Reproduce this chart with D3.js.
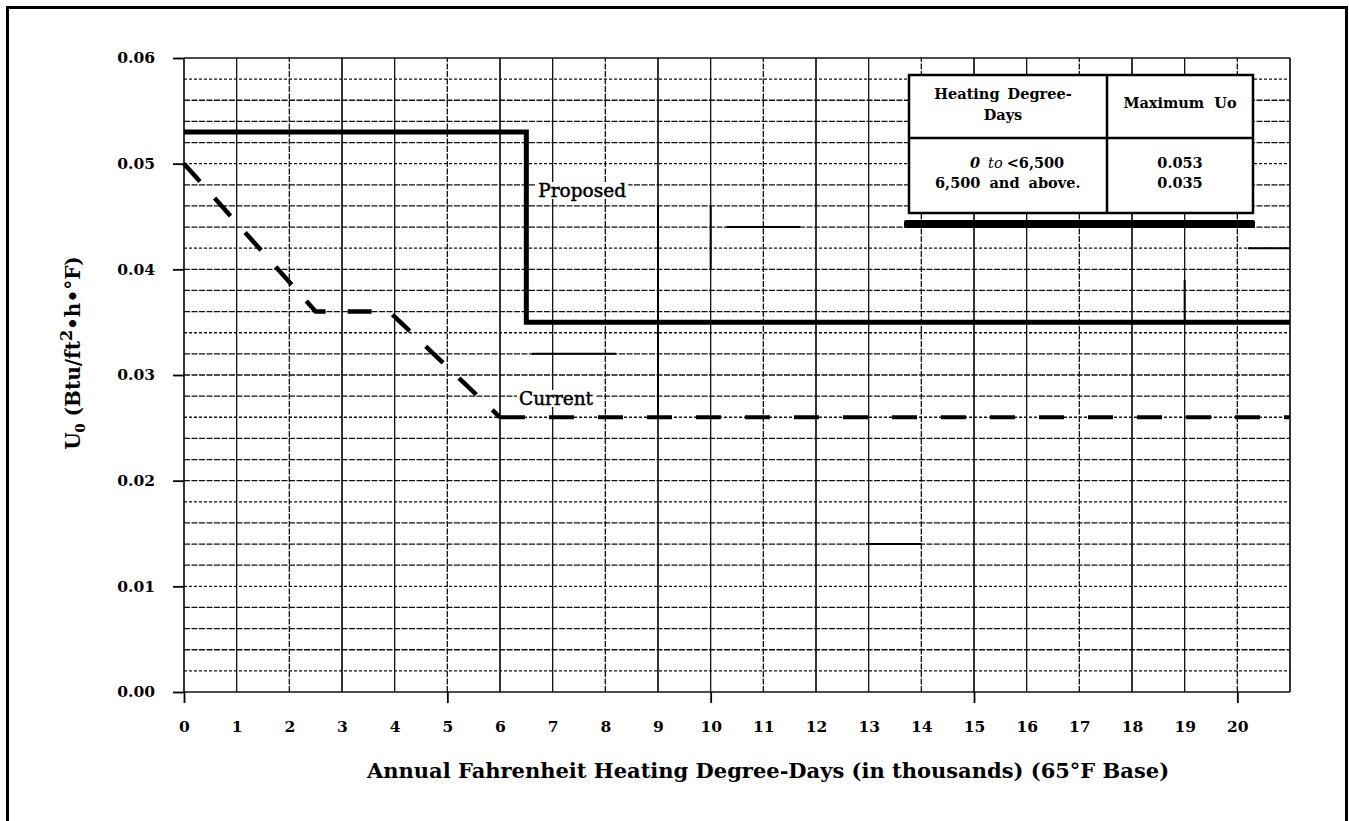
<!DOCTYPE html>
<html>
<head>
<meta charset="utf-8">
<script src="https://cdn.jsdelivr.net/npm/d3@7"></script>
<style>
  body { margin: 0; background: #fff; }
  svg { display: block; }
  text { font-family: "DejaVu Serif", serif; fill: #000; }
</style>
</head>
<body>
<div id="vis"></div>
<script>
// values
const proposedHDD = [0, 6.5, 6.5, 21];
const proposedU = [0.053, 0.053, 0.035, 0.035];
const currentHDD = [0, 2.5, 3.9, 6.0, 21];
const currentU = [0.050, 0.036, 0.036, 0.026, 0.026];

const xTickValues = [0, 1, 2, 3, 4, 5, 6, 7, 8, 9, 10, 11, 12, 13, 14, 15, 16, 17, 18, 19, 20];
const xMajorTicks = [0, 5, 10, 15, 20];
const yTickValues = [0.00, 0.01, 0.02, 0.03, 0.04, 0.05, 0.06];

const tableHeadLeft = ["Heating Degree-", "Days"];
const tableHeadRight = "Maximum Uo";
const tableRanges = ["0 to <6,500", "6,500 and above."];
const tableMaxU = ["0.053", "0.035"];

// darker grid pieces that show in the original print
const heavyH = [[0.044, 10.3, 11.7], [0.032, 6.6, 8.2], [0.014, 12.95, 14.0], [0.042, 20.2, 21]];
const heavyV = [[9, 0.026, 0.046], [10, 0.040, 0.046], [19, 0.035, 0.039]];

function drawChart() {
  const size = { width: 1349, height: 821 };
  const plot = { left: 184, right: 1290, top: 58, bottom: 692 };

  const svg = d3.select("#vis")
    .append("svg")
    .attr("width", size.width)
    .attr("height", size.height);

  // page frame (bottom edge is cut off in the scan)
  svg.append("path")
    .attr("d", `M7.5,${size.height} V7.5 H1346.5 V${size.height}`)
    .attr("fill", "none")
    .attr("stroke", "#000")
    .attr("stroke-width", 3);

  const x = d3.scaleLinear().domain([0, 21]).range([plot.left, plot.right]);
  const y = d3.scaleLinear().domain([0, 0.06]).range([plot.bottom, plot.top]);

  const grid = svg.append("g");
  const hLines = d3.range(0, 31).map(i => i * 0.002);
  grid.selectAll(".hgrid")
    .data(hLines)
    .join("line")
    .attr("class", "hgrid")
    .attr("x1", x(0)).attr("x2", x(21))
    .attr("y1", d => y(d)).attr("y2", d => y(d))
    .attr("stroke", "#111")
    .attr("stroke-width", (d, i) => (i === 0 || i === 30) ? 1.6 : 1.3)
    .attr("stroke-dasharray", (d, i) => (i === 0 || i === 30) ? null : (i % 4 === 1 ? "3,2" : "6,1.5"));

  grid.selectAll(".vgrid")
    .data(d3.range(0, 22))
    .join("line")
    .attr("class", "vgrid")
    .attr("x1", d => x(d)).attr("x2", d => x(d))
    .attr("y1", y(0)).attr("y2", y(0.06))
    .attr("stroke", "#111")
    .attr("stroke-width", (d, i) => i % 3 === 0 ? 1.7 : 1.3)
    .attr("stroke-dasharray", (d, i) => i % 3 === 2 ? "6,1.5" : null);

  grid.selectAll(".heavyH")
    .data(heavyH)
    .join("line")
    .attr("x1", d => x(d[1])).attr("x2", d => x(d[2]))
    .attr("y1", d => y(d[0])).attr("y2", d => y(d[0]))
    .attr("stroke", "#000").attr("stroke-width", 2);
  grid.selectAll(".heavyV")
    .data(heavyV)
    .join("line")
    .attr("x1", d => x(d[0])).attr("x2", d => x(d[0]))
    .attr("y1", d => y(d[1])).attr("y2", d => y(d[2]))
    .attr("stroke", "#000").attr("stroke-width", 2);

  // axes
  const yAxis = svg.append("g")
    .attr("transform", `translate(${plot.left},0)`)
    .call(d3.axisLeft(y).tickValues(yTickValues).tickSize(11).tickPadding(18).tickFormat(d3.format(".2f")));
  const xLabels = svg.append("g")
    .attr("transform", `translate(0,${plot.bottom})`)
    .call(d3.axisBottom(x).tickValues(xTickValues).tickSize(0).tickPadding(29).tickFormat(d3.format("d")));
  const xMajor = svg.append("g")
    .attr("transform", `translate(0,${plot.bottom})`)
    .call(d3.axisBottom(x).tickValues(xMajorTicks).tickSize(11).tickFormat(""));

  [yAxis, xLabels, xMajor].forEach(a => {
    a.select(".domain").remove();
    a.selectAll("line").attr("stroke", "#000").attr("stroke-width", 1.8);
    a.selectAll("text")
      .style("font-family", "'DejaVu Serif', serif")
      .style("font-size", "15.5px")
      .style("font-weight", "bold")
      .attr("fill", "#000");
  });

  // series
  const line = d3.line().x(d => x(d[0])).y(d => y(d[1]));
  const proposed = proposedHDD.map((d, i) => [d, proposedU[i]]);
  const current = currentHDD.map((d, i) => [d, currentU[i]]);

  svg.append("path")
    .datum(proposed)
    .attr("d", line)
    .attr("fill", "none")
    .attr("stroke", "#000")
    .attr("stroke-width", 5)
    .attr("stroke-linejoin", "miter");

  // dashed line drawn in two runs so the flat tail starts on a dash
  svg.append("path")
    .datum(current.slice(0, 4))
    .attr("d", line)
    .attr("fill", "none")
    .attr("stroke", "#000")
    .attr("stroke-width", 4.5)
    .attr("stroke-dasharray", "24,22");
  svg.append("path")
    .datum(current.slice(3))
    .attr("d", line)
    .attr("fill", "none")
    .attr("stroke", "#000")
    .attr("stroke-width", 4)
    .attr("stroke-dasharray", "25,24");

  // line labels with white knock-out
  function label(txt, lx, ly) {
    const g = svg.append("g");
    const bg = g.append("rect").attr("fill", "#fff");
    const t = g.append("text")
      .attr("x", lx).attr("y", ly)
      .style("font-size", "18.5px")
      .attr("stroke", "#000").attr("stroke-width", 0.5)
      .text(txt);
    const b = t.node().getBBox();
    bg.attr("x", b.x - 2).attr("y", b.y + 2).attr("width", b.width + 4).attr("height", b.height - 4);
  }
  label("Proposed", x(6.5) + 12, 197);
  label("Current", x(6.0) + 19, 405);

  // table box
  const tb = { left: 909, right: 1253, mid: 1107, top: 75, head: 138, bottom: 213 };
  const table = svg.append("g");
  table.append("rect")
    .attr("x", tb.left).attr("y", tb.top)
    .attr("width", tb.right - tb.left).attr("height", tb.bottom - tb.top)
    .attr("fill", "#fff").attr("stroke", "#000").attr("stroke-width", 2.5);
  table.append("line")
    .attr("x1", tb.mid).attr("x2", tb.mid).attr("y1", tb.top).attr("y2", tb.bottom)
    .attr("stroke", "#000").attr("stroke-width", 2.5);
  table.append("line")
    .attr("x1", tb.left).attr("x2", tb.right).attr("y1", tb.head).attr("y2", tb.head)
    .attr("stroke", "#000").attr("stroke-width", 2.5);
  table.append("rect")
    .attr("x", tb.left - 5).attr("y", tb.bottom + 7)
    .attr("width", tb.right - tb.left + 7).attr("height", 8)
    .attr("rx", 2)
    .attr("fill", "#000");

  const fs = "14.5px";
  const colL = (tb.left + tb.mid) / 2 - 5;
  const colR = (tb.mid + tb.right) / 2;
  table.selectAll(".headL")
    .data(tableHeadLeft)
    .join("text")
    .attr("x", colL).attr("y", (d, i) => 99 + i * 21)
    .attr("text-anchor", "middle")
    .style("font-size", fs).style("font-weight", "bold").style("word-spacing", "3px")
    .text(d => d);
  table.append("text")
    .attr("x", colR).attr("y", 108)
    .attr("text-anchor", "middle")
    .style("font-size", fs).style("font-weight", "bold").style("word-spacing", "5px")
    .text(tableHeadRight);

  const r0 = tableRanges[0].split(" ");
  const row1 = table.append("text")
    .attr("x", 970).attr("y", 168)
    .style("font-size", fs).style("font-weight", "bold");
  row1.append("tspan").text(r0[0]).style("font-style", "italic");
  row1.append("tspan").attr("dx", 8).text(r0[1]).style("font-style", "italic").style("font-weight", "normal");
  row1.append("tspan").attr("dx", 4).text(r0[2]);
  table.append("text")
    .attr("x", 935).attr("y", 188)
    .style("font-size", fs).style("font-weight", "bold").style("word-spacing", "4px")
    .text(tableRanges[1]);
  table.selectAll(".maxu")
    .data(tableMaxU)
    .join("text")
    .attr("x", colR).attr("y", (d, i) => 168 + i * 20)
    .attr("text-anchor", "middle")
    .style("font-size", fs).style("font-weight", "bold")
    .text(d => d);

  // axis titles
  svg.append("text")
    .attr("x", 768).attr("y", 778)
    .attr("text-anchor", "middle")
    .style("font-size", "21px").style("font-weight", "bold")
    .text("Annual Fahrenheit Heating Degree-Days (in thousands) (65°F Base)");

  const yt = svg.append("text")
    .attr("transform", "translate(80,353) rotate(-90)")
    .attr("text-anchor", "middle")
    .style("font-size", "20px").style("font-weight", "bold");
  yt.append("tspan").text("U");
  yt.append("tspan").text("0").style("font-size", "13px").attr("dy", 5);
  yt.append("tspan").text(" (Btu/ft").attr("dy", -5);
  yt.append("tspan").text("2").style("font-size", "16px").attr("dy", -8);
  yt.append("tspan").text("•h•°F)").attr("dy", 8);
}

drawChart();
</script>
</body>
</html>
